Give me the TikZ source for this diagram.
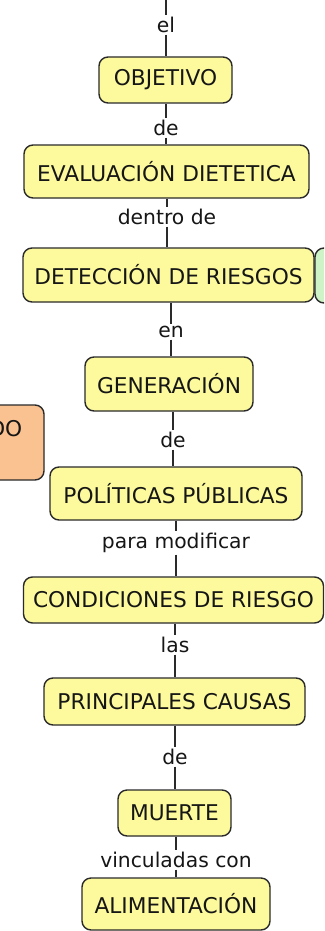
\documentclass[tikz,border=0pt]{standalone}
\usepackage{fontspec}
\setmainfont{DejaVu Sans}
\definecolor{boxy}{HTML}{FCFA9C}
\definecolor{orng}{HTML}{FBC291}
\definecolor{grn}{HTML}{CDF3C6}
\definecolor{linec}{HTML}{2A2A2A}
\definecolor{txt}{HTML}{161616}
\begin{document}
\begin{tikzpicture}[x=1pt,y=-1pt,
  box/.style={draw=linec, line width=1.4pt, fill=boxy, rounded corners=9pt, inner sep=0pt,
    font=\fontsize{21.7}{26}\selectfont, text=txt},
  lab/.style={inner sep=1.5pt, font=\fontsize{20.3}{24}\selectfont, text=txt},
  conn/.style={draw=linec, line width=1.3pt}]
\useasboundingbox (0,0) rectangle (324,931);
\clip (0,0) rectangle (324,931);

% side boxes (mostly outside the frame)
\node[box, fill=orng, minimum width=130pt, minimum height=75pt] (orange) at (-21,442.5) {};
\node[lab, anchor=east, font=\fontsize{21.7}{26}\selectfont] (orangetxt) at (24,429) {DO};
\node[box, fill=grn, minimum width=80pt, minimum height=55pt] (green) at (355,275.5) {};

% main boxes
\node[box, minimum width=133pt, minimum height=46pt] (obj)  at (165.5,80)   {OBJETIVO};
\node[box, minimum width=285pt, minimum height=53pt] (eval) at (166.5,171.5) {EVALUACIÓN DIETETICA};
\node[box, minimum width=291pt, minimum height=54pt] (det)  at (168.5,275)  {DETECCIÓN DE RIESGOS};
\node[box, minimum width=168pt, minimum height=54pt] (gen)  at (169,384)    {GENERACIÓN};
\node[box, minimum width=252pt, minimum height=53pt] (pol)  at (176,493.5)  {POLÍTICAS PÚBLICAS};
\node[box, minimum width=300pt, minimum height=46pt] (cond) at (173.5,600)  {CONDICIONES DE RIESGO};
\node[box, minimum width=261pt, minimum height=47pt] (prin) at (174.5,701.5) {PRINCIPALES CAUSAS};
\node[box, minimum width=113pt, minimum height=46pt] (muer) at (174.5,813)  {MUERTE};
\node[box, minimum width=188pt, minimum height=52pt] (alim) at (176,904)    {ALIMENTACIÓN};

% linking phrases
\coordinate (top) at (166,0);
\node[lab] (l1) at (166,25)  {el};
\node[lab] (l2) at (166,128) {de};
\node[lab] (l3) at (167,217) {dentro de};
\node[lab] (l4) at (171,332) {en};
\node[lab] (l5) at (173,440) {de};
\node[lab] (l6) at (176,543) {para modificar};
\node[lab] (l7) at (175,645) {las};
\node[lab] (l8) at (175,757) {de};
\node[lab] (l9) at (176,860) {vinculadas con};

% connectors
\draw[conn] (top) -- (l1.north);
\draw[conn] (l1.south) -- (l1 |- obj.north);
\draw[conn] (l2 |- obj.south) -- (l2.north);
\draw[conn] (l2.south) -- (l2 |- eval.north);
\draw[conn] (l3 |- eval.south) -- (l3.north);
\draw[conn] (l3.south) -- (l3 |- det.north);
\draw[conn] (l4 |- det.south) -- (l4.north);
\draw[conn] (l4.south) -- (l4 |- gen.north);
\draw[conn] (l5 |- gen.south) -- (l5.north);
\draw[conn] (l5.south) -- (l5 |- pol.north);
\draw[conn] (l6 |- pol.south) -- (l6.north);
\draw[conn] (l6.south) -- (l6 |- cond.north);
\draw[conn] (l7 |- cond.south) -- (l7.north);
\draw[conn] (l7.south) -- (l7 |- prin.north);
\draw[conn] (l8 |- prin.south) -- (l8.north);
\draw[conn] (l8.south) -- (l8 |- muer.north);
\draw[conn] (l9 |- muer.south) -- (l9.north);
\draw[conn] (l9.south) -- (l9 |- alim.north);
\end{tikzpicture}
\end{document}
